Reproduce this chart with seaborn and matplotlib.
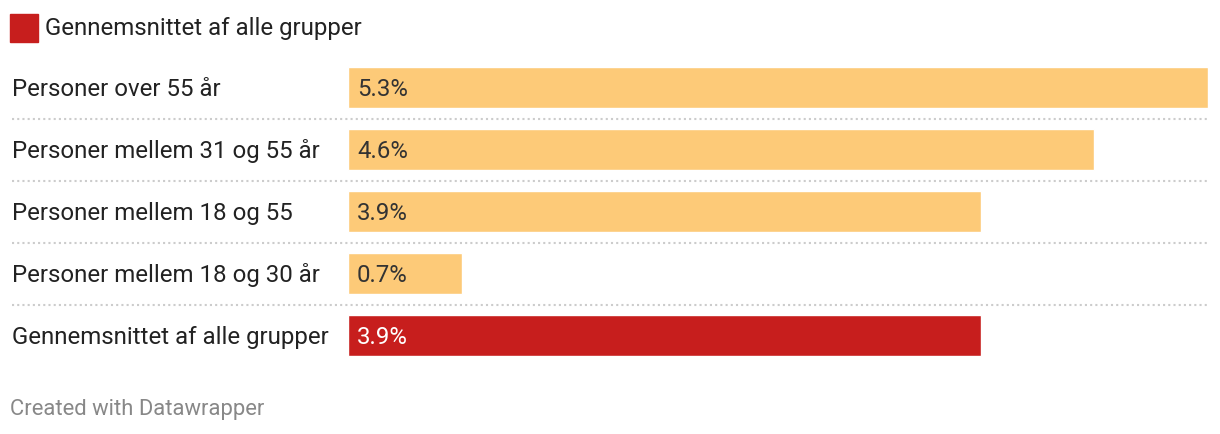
import matplotlib.pyplot as plt
import seaborn as sns
from matplotlib.patches import Rectangle

# Data
categories = ['Personer over 55 år', 'Personer mellem 31 og 55 år',
              'Personer mellem 18 og 55', 'Personer mellem 18 og 30 år',
              'Gennemsnittet af alle grupper']
values = [5.3, 4.6, 3.9, 0.7, 3.9]
labels = ['5.3%', '4.6%', '3.9%', '0.7%', '3.9%']
bar_colors = ['#fdca78', '#fdca78', '#fdca78', '#fdca78', '#c71e1d']
text_colors = ['#333333', '#333333', '#333333', '#333333', '#ffffff']
legend_label = 'Gennemsnittet af alle grupper'

sns.set_style('white')
plt.rcParams['font.family'] = ['Roboto', 'DejaVu Sans']

W, H = 1220, 434
fig = plt.figure(figsize=(W / 100, H / 100), dpi=100)
# axes spans bar area in pixels: x 348..1208, y 56.5..366.5
ax = fig.add_axes([348 / W, 1 - 366.5 / H, 860 / W, 310 / H])

sns.barplot(x=values, y=categories, hue=categories, palette=bar_colors,
            orient='h', width=0.655, legend=False, ax=ax, saturation=1)

ax.set_xlim(0, 5.3)
ax.set_ylim(4.5, -0.5)
ax.axis('off')

# category labels and value labels (baseline ~8.5px below row centre)
base = 8.5 / 62
for i, (cat, lab, tc) in enumerate(zip(categories, labels, text_colors)):
    ax.text(-336 / 860 * 5.3, i + base, cat, ha='left', va='baseline',
            fontsize=17.3, color='#222222')
    ax.text(9 / 860 * 5.3, i + base, lab, ha='left', va='baseline',
            fontsize=17.3, color=tc)

# dotted separators
for i in range(len(categories) - 1):
    ax.plot([-336 / 860 * 5.3, 5.3], [i + 0.5, i + 0.5], color='#cccccc',
            linestyle=(0, (1, 1.5)), linewidth=1.5, clip_on=False)

# color key
fig.add_artist(Rectangle((10 / W, 1 - 42 / H), 28 / W, 28 / H,
                         transform=fig.transFigure, color='#c71e1d'))
fig.text(45 / W, 1 - 34.5 / H, legend_label, ha='left', va='baseline',
         fontsize=17.3, color='#222222')

# footer
fig.text(10 / W, 1 - 415.5 / H, 'Created with Datawrapper', ha='left',
         va='baseline', fontsize=15.8, color='#888888')

plt.savefig('out.png', dpi=100)
plt.close()
